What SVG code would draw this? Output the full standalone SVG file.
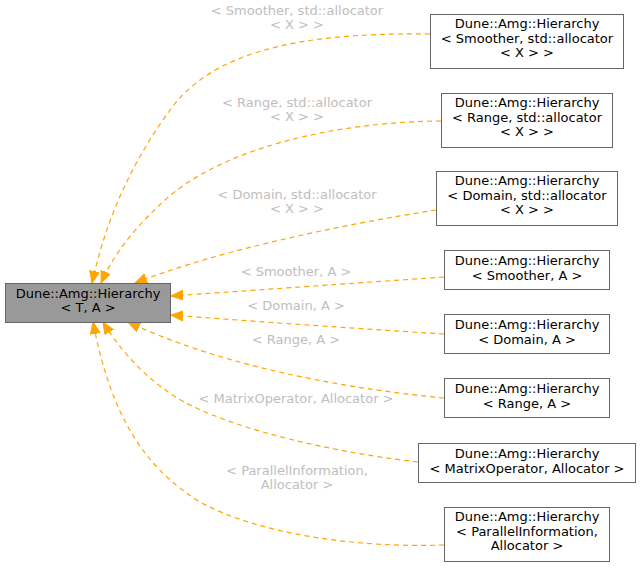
<svg xmlns="http://www.w3.org/2000/svg" width="641" height="567" viewBox="0 0 641 567">
<style>
  .n rect { fill: #ffffff; stroke: #666666; stroke-width: 1; }
  .main rect { fill: #999999; stroke: #666666; stroke-width: 1; }
  text { font-family: "DejaVu Sans", "Liberation Sans", sans-serif; font-size: 13px; text-anchor: middle; }
  .n text, .main text { fill: #000000; }
  .lbl { fill: #bebebe; }
  .e { fill: none; stroke: #ffa500; stroke-width: 1.2; stroke-dasharray: 5,4; }
</style>
<defs>
  <marker id="ah" markerUnits="userSpaceOnUse" markerWidth="14" markerHeight="12" refX="12" refY="5" orient="auto" viewBox="0 0 14 12">
    <polygon points="0,0 12,5 0,10" fill="#ffa500" stroke="#ffa500" stroke-width="1"/>
  </marker>
</defs>
<g id="connectors">
  <path class="e" marker-end="url(#ah)" d="M430,34 C290,32 210,55 170,110 C130,165 106,220 92,283"/>
  <path class="e" marker-end="url(#ah)" d="M441,121 C330,122 220,150 165,200 C130,232 112,258 101,283"/>
  <path class="e" marker-end="url(#ah)" d="M436,210 C340,225 220,250 135,283"/>
  <path class="e" marker-end="url(#ah)" d="M444,277 L171,296"/>
  <path class="e" marker-end="url(#ah)" d="M444,334 C380,330 260,322 171,315"/>
  <path class="e" marker-end="url(#ah)" d="M444,398 C360,390 230,370 128,322"/>
  <path class="e" marker-end="url(#ah)" d="M418,462 C330,452 240,430 190,405 C150,385 120,350 103,322"/>
  <path class="e" marker-end="url(#ah)" d="M444,545 C360,548 260,535 200,502 C140,465 110,410 93,322"/>
  <text class="lbl" x="297" y="15">&lt; Smoother, std::allocator</text>
  <text class="lbl" x="297" y="29">&lt; X &gt; &gt;</text>
  <text class="lbl" x="297" y="107">&lt; Range, std::allocator</text>
  <text class="lbl" x="297" y="121">&lt; X &gt; &gt;</text>
  <text class="lbl" x="297" y="199">&lt; Domain, std::allocator</text>
  <text class="lbl" x="297" y="213">&lt; X &gt; &gt;</text>
  <text class="lbl" x="296" y="276">&lt; Smoother, A &gt;</text>
  <text class="lbl" x="296" y="310">&lt; Domain, A &gt;</text>
  <text class="lbl" x="296" y="344">&lt; Range, A &gt;</text>
  <text class="lbl" x="296" y="403">&lt; MatrixOperator, Allocator &gt;</text>
  <text class="lbl" x="297" y="475">&lt; ParallelInformation,</text>
  <text class="lbl" x="297" y="489">Allocator &gt;</text>
</g>
<g id="main" class="main">
  <rect x="5.5" y="283.5" width="165" height="39"/>
  <text x="88" y="298">Dune::Amg::Hierarchy</text>
  <text x="88" y="312">&lt; T, A &gt;</text>
</g>
<g id="n1" class="n">
  <rect x="430.5" y="14.5" width="193" height="54"/>
  <text x="527" y="28">Dune::Amg::Hierarchy</text>
  <text x="527" y="42.5">&lt; Smoother, std::allocator</text>
  <text x="527" y="57">&lt; X &gt; &gt;</text>
</g>
<g id="n2" class="n">
  <rect x="441.5" y="93.5" width="171" height="54"/>
  <text x="527" y="107">Dune::Amg::Hierarchy</text>
  <text x="527" y="121.5">&lt; Range, std::allocator</text>
  <text x="527" y="136">&lt; X &gt; &gt;</text>
</g>
<g id="n3" class="n">
  <rect x="436.5" y="171.5" width="181" height="54"/>
  <text x="527" y="185">Dune::Amg::Hierarchy</text>
  <text x="527" y="199.5">&lt; Domain, std::allocator</text>
  <text x="527" y="214">&lt; X &gt; &gt;</text>
</g>
<g id="n4" class="n">
  <rect x="444.5" y="250.5" width="165" height="39"/>
  <text x="527" y="265">Dune::Amg::Hierarchy</text>
  <text x="527" y="279.5">&lt; Smoother, A &gt;</text>
</g>
<g id="n5" class="n">
  <rect x="444.5" y="314.5" width="165" height="39"/>
  <text x="527" y="329">Dune::Amg::Hierarchy</text>
  <text x="527" y="343.5">&lt; Domain, A &gt;</text>
</g>
<g id="n6" class="n">
  <rect x="444.5" y="378.5" width="165" height="39"/>
  <text x="527" y="393">Dune::Amg::Hierarchy</text>
  <text x="527" y="407.5">&lt; Range, A &gt;</text>
</g>
<g id="n7" class="n">
  <rect x="418.5" y="443.5" width="217" height="39"/>
  <text x="527" y="458">Dune::Amg::Hierarchy</text>
  <text x="527" y="472.5">&lt; MatrixOperator, Allocator &gt;</text>
</g>
<g id="n8" class="n">
  <rect x="444.5" y="507.5" width="165" height="54"/>
  <text x="527" y="521">Dune::Amg::Hierarchy</text>
  <text x="527" y="535.5">&lt; ParallelInformation,</text>
  <text x="527" y="550">Allocator &gt;</text>
</g>
</svg>
